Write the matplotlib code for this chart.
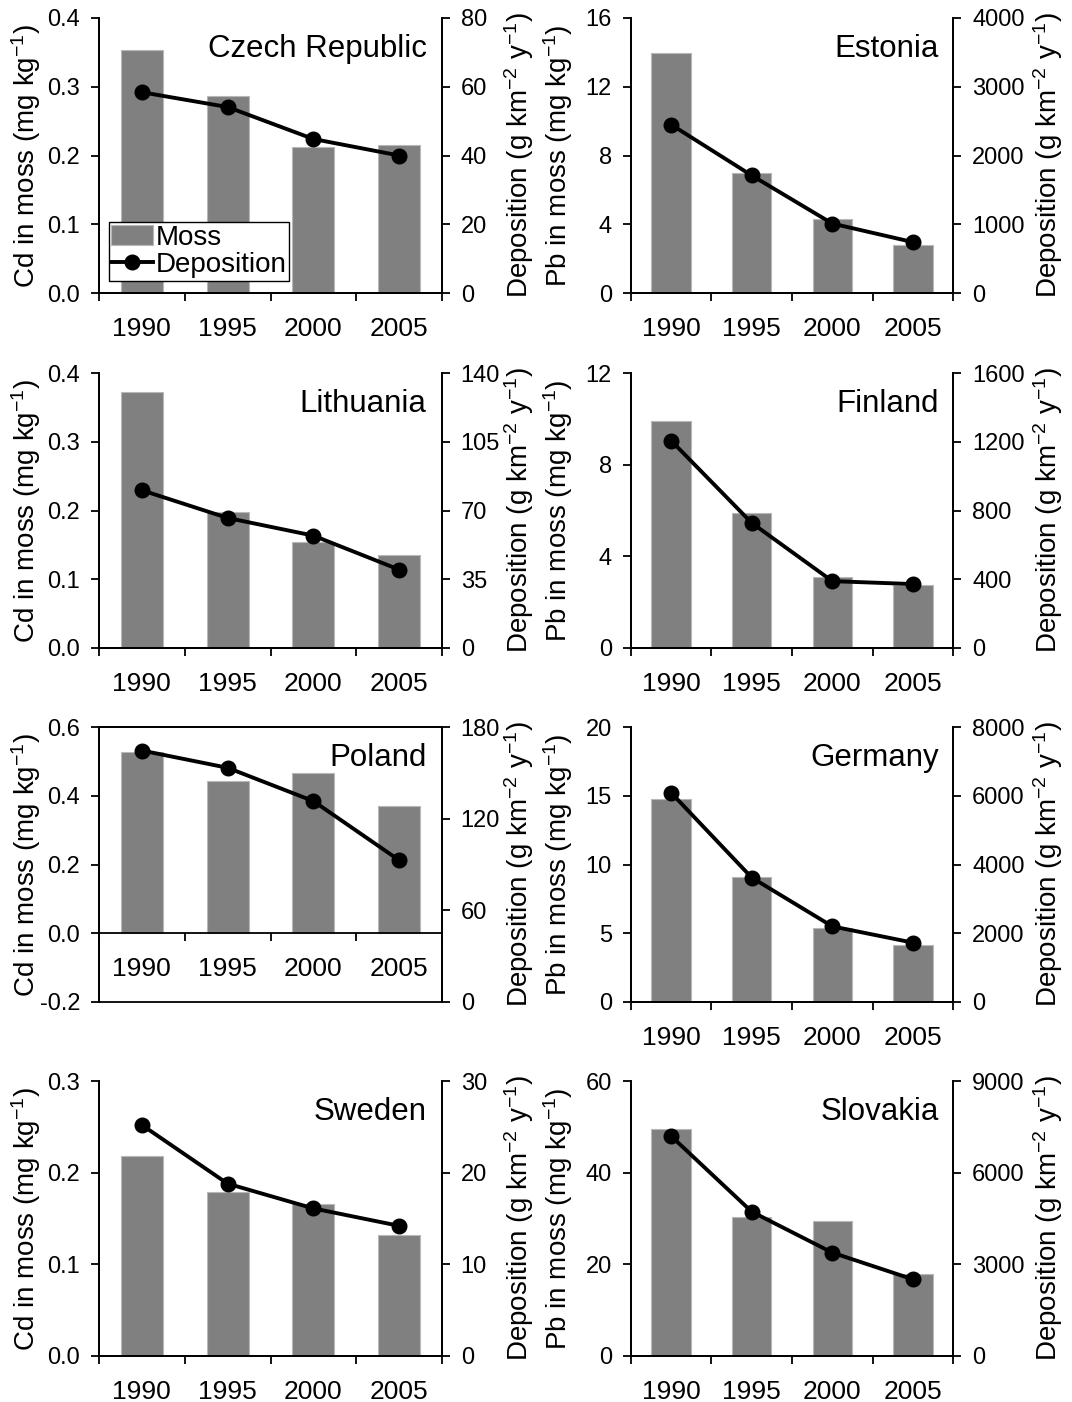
import matplotlib
matplotlib.use("Agg")
import matplotlib.pyplot as plt
import numpy as np

plt.rcParams.update({
    "font.family": "Liberation Sans",
    "mathtext.fontset": "custom",
    "mathtext.rm": "Liberation Sans",
    "mathtext.it": "Liberation Sans:italic",
    "mathtext.bf": "Liberation Sans:bold",
})

years = ["1990", "1995", "2000", "2005"]

# Moss concentrations (left axis) and modelled deposition (right axis)
czech_moss = [0.353, 0.287, 0.213, 0.215]
czech_dep = [58.4, 54.1, 44.8, 40.0]
estonia_moss = [13.95, 6.98, 4.32, 2.79]
estonia_dep = [2450, 1710, 1010, 740]
lithuania_moss = [0.373, 0.198, 0.154, 0.136]
lithuania_dep = [80.3, 66.2, 57.2, 39.9]
finland_moss = [9.89, 5.90, 3.11, 2.76]
finland_dep = [1207, 728, 389, 372]
poland_moss = [0.527, 0.443, 0.466, 0.370]
poland_dep = [164.6, 153.3, 131.5, 92.8]
germany_moss = [14.79, 9.12, 5.38, 4.17]
germany_dep = [6090, 3620, 2200, 1726]
sweden_moss = [0.218, 0.179, 0.166, 0.132]
sweden_dep = [25.2, 18.8, 16.1, 14.2]
slovakia_moss = [49.45, 30.4, 29.45, 17.96]
slovakia_dep = [7200, 4724, 3382, 2509]

# name, moss, deposition, metal, (left min, max, step), (right min, max, step)
panels = [
    ("Czech Republic", czech_moss, czech_dep, "Cd", (0, 0.4, 0.1), (0, 80, 20)),
    ("Estonia", estonia_moss, estonia_dep, "Pb", (0, 16, 4), (0, 4000, 1000)),
    ("Lithuania", lithuania_moss, lithuania_dep, "Cd", (0, 0.4, 0.1), (0, 140, 35)),
    ("Finland", finland_moss, finland_dep, "Pb", (0, 12, 4), (0, 1600, 400)),
    ("Poland", poland_moss, poland_dep, "Cd", (-0.2, 0.6, 0.2), (0, 180, 60)),
    ("Germany", germany_moss, germany_dep, "Pb", (0, 20, 5), (0, 8000, 2000)),
    ("Sweden", sweden_moss, sweden_dep, "Cd", (0, 0.3, 0.1), (0, 30, 10)),
    ("Slovakia", slovakia_moss, slovakia_dep, "Pb", (0, 60, 20), (0, 9000, 3000)),
]

W, H = 1072, 1402
fig = plt.figure(figsize=(W / 100, H / 100), dpi=100)

col_x = [(99, 343), (630.7, 322.6)]
row_bottom = [293, 648, 1002, 1356]
ax_h = 275
lab_left = [-0.163, -0.172]
lab_right = [1.175, 1.24]

bar_color = "#808080"
lw_spine = 1.3
x = np.arange(len(years))

for i, (name, moss, dep, metal, lrange, rrange) in enumerate(panels):
    row, col = divmod(i, 2)
    x0, w = col_x[col]
    ax = fig.add_axes([x0 / W, 1 - row_bottom[row] / H, w / W, ax_h / H])
    ax2 = ax.twinx()

    bars = ax.bar(x, moss, width=0.49, color=bar_color, edgecolor="#b8b8b8",
                  linewidth=0.8, zorder=2)
    line, = ax2.plot(x, dep, color="black", lw=2.8, marker="o", ms=10.5,
                     zorder=3)

    ax.set_xlim(-0.5, 3.5)
    ax.set_xticks(x)
    ax.set_xticklabels(years)
    ax.set_xticks(np.arange(-0.5, 4, 1), minor=True)
    ax.tick_params(axis="x", which="major", length=0, pad=17, labelsize=19)
    ax.tick_params(axis="x", which="minor", length=5.5, width=lw_spine,
                   direction="out")

    lo, hi, st = lrange
    ax.set_ylim(lo, hi)
    lt = np.arange(lo, hi + st / 2, st)
    ax.set_yticks(lt)
    if metal == "Cd":
        ax.set_yticklabels([f"{v:.1f}" for v in lt])
    else:
        ax.set_yticklabels([f"{v:.0f}" for v in lt])
    ax.tick_params(axis="y", length=5.5, width=lw_spine, pad=8, labelsize=17)

    lo, hi, st = rrange
    ax2.set_ylim(lo, hi)
    rt = np.arange(lo, hi + st / 2, st)
    ax2.set_yticks(rt)
    ax2.set_yticklabels([f"{v:.0f}" for v in rt])
    ax2.tick_params(axis="y", length=5.5, width=lw_spine, pad=8, labelsize=17)

    for a in (ax, ax2):
        for s in a.spines.values():
            s.set_linewidth(lw_spine)

    if name == "Poland":
        # x axis crosses at zero, frame kept all around
        ax.spines["bottom"].set_position(("data", 0))
    else:
        ax.spines["top"].set_visible(False)
        ax2.spines["top"].set_visible(False)

    ax.set_ylabel(f"{metal} in moss (mg kg$^{{-1}}$)", fontsize=20)
    ax.yaxis.set_label_coords(lab_left[col], 0.5)
    ax2.set_ylabel("Deposition (g km$^{-2}$ y$^{-1}$)", fontsize=20)
    ax2.yaxis.set_label_coords(lab_right[col], 0.5)

    ax2.text(0.955, 0.858, name, transform=ax2.transAxes, ha="right",
             va="baseline", fontsize=22.5)

    if i == 0:
        leg = ax2.legend([bars, line], ["Moss", "Deposition"], loc="lower left",
                         bbox_to_anchor=(0.028, 0.044), borderaxespad=0,
                         fancybox=False, edgecolor="black", framealpha=1,
                         fontsize=20, borderpad=0.1, labelspacing=0.05,
                         handlelength=1.5, handletextpad=0.1)
        leg.get_frame().set_linewidth(1.0)

fig.savefig("out.png", dpi=100)
